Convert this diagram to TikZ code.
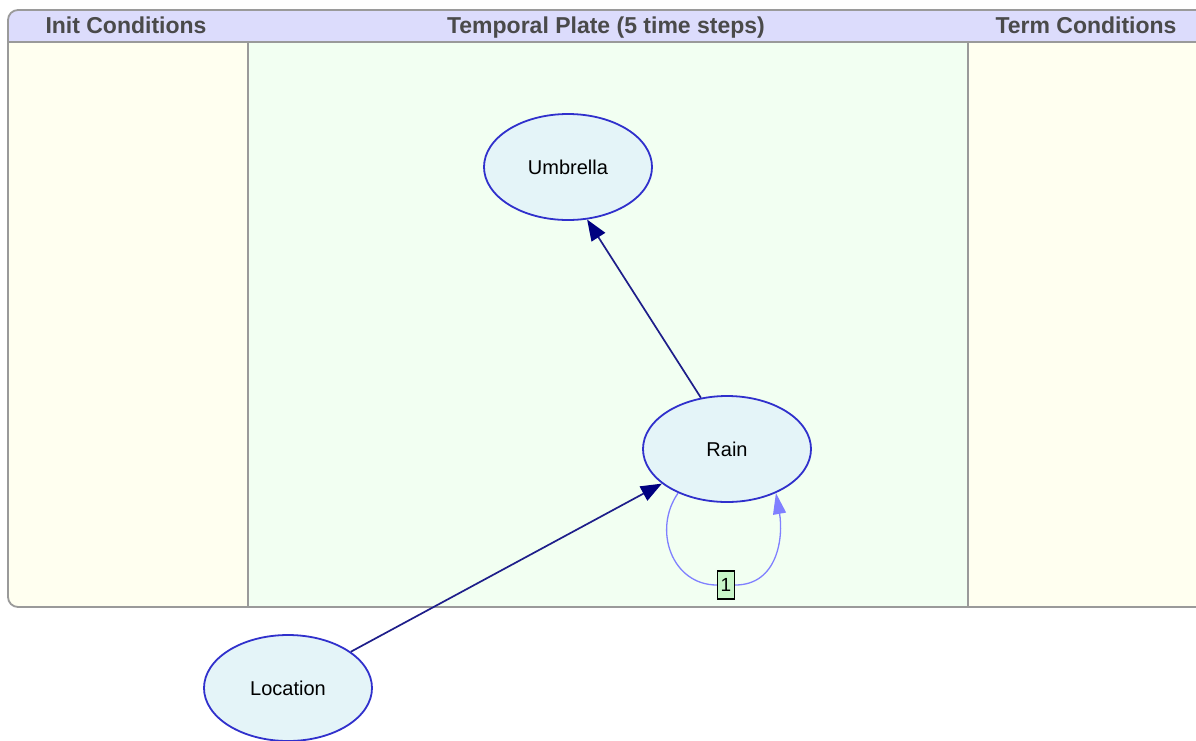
\documentclass[tikz,border=0pt]{standalone}
\usepackage{fontspec}
\setmainfont{Liberation Sans}
\usetikzlibrary{arrows.meta,shapes.geometric}
\definecolor{hdrfill}{HTML}{DCDCFC}
\definecolor{hdrtext}{HTML}{4A4A4A}
\definecolor{framegray}{HTML}{9A9A9A}
\definecolor{initfill}{HTML}{FFFFF0}
\definecolor{platefill}{HTML}{F2FFF2}
\definecolor{nodefill}{HTML}{E4F4F8}
\definecolor{nodeline}{HTML}{3030CC}
\definecolor{edgeline}{HTML}{1E1E8A}
\definecolor{edgetip}{HTML}{000080}
\definecolor{loopcol}{HTML}{8080FF}
\definecolor{lblfill}{HTML}{C8F5C8}
\tikzset{
  varnode/.style={ellipse, draw=nodeline, line width=1.8pt, fill=nodefill,
    minimum width=168pt, minimum height=106pt, inner sep=0pt,
    font=\fontsize{20}{24}\selectfont},
  hdr/.style={font=\fontsize{23}{27}\selectfont\bfseries, text=hdrtext, inner sep=0pt, anchor=base},
  arc edge/.style={draw=edgeline, line width=1.7pt,
    -{Triangle[length=21pt,width=16pt,fill=edgetip,color=edgetip]}},
  loopedge/.style={draw=loopcol, line width=1.3pt},
  lblbox/.style={draw=black, line width=1.3pt, fill=lblfill, minimum width=17pt,
    minimum height=28pt, inner sep=0pt, font=\fontsize{19}{22}\selectfont}
}
\begin{document}
\begin{tikzpicture}[x=1pt,y=-1pt]
\useasboundingbox (0,0) rectangle (1196,740);
\fill[white] (0,0) rectangle (1196,740);
% plate
\begin{scope}
\clip[rounded corners=10pt] (8,10) rectangle (1206,607);
\fill[initfill] (8,42) rectangle (248,607);
\fill[platefill] (248,42) rectangle (968,607);
\fill[initfill] (968,42) rectangle (1206,607);
\fill[hdrfill] (8,10) rectangle (1206,42);
\end{scope}
\draw[framegray, line width=1.6pt] (8,42) -- (1206,42);
\draw[framegray, line width=1.6pt] (248,42) -- (248,607);
\draw[framegray, line width=1.6pt] (968,42) -- (968,607);
\draw[framegray, line width=1.8pt, rounded corners=10pt] (8,10) rectangle (1206,607);
\node[hdr] (hinit) at (126,33) {Init Conditions};
\node[hdr] (hplate) at (606,33) {Temporal Plate (5 time steps)};
\node[hdr] (hterm) at (1086,33) {Term Conditions};
% nodes
\node[varnode] (umbrella) at (568,167) {Umbrella};
\node[varnode] (rain) at (727,449) {Rain};
\node[varnode] (location) at (288,688) {Location};
\node[lblbox] (lbl) at (726,585) {1};
% edges
\draw[arc edge] (rain.117) -- (umbrella.-70);
\draw[arc edge] (location.30) -- (rain.-152);
\draw[loopedge] (rain.-138) to[out=235, in=180, looseness=1.15] (lbl.west);
\draw[loopedge, -{Triangle[length=21pt,width=13pt,fill=loopcol,color=loopcol]}]
  (lbl.east) to[out=0, in=-80, looseness=1.1] (rain.-42);
\end{tikzpicture}
\end{document}
